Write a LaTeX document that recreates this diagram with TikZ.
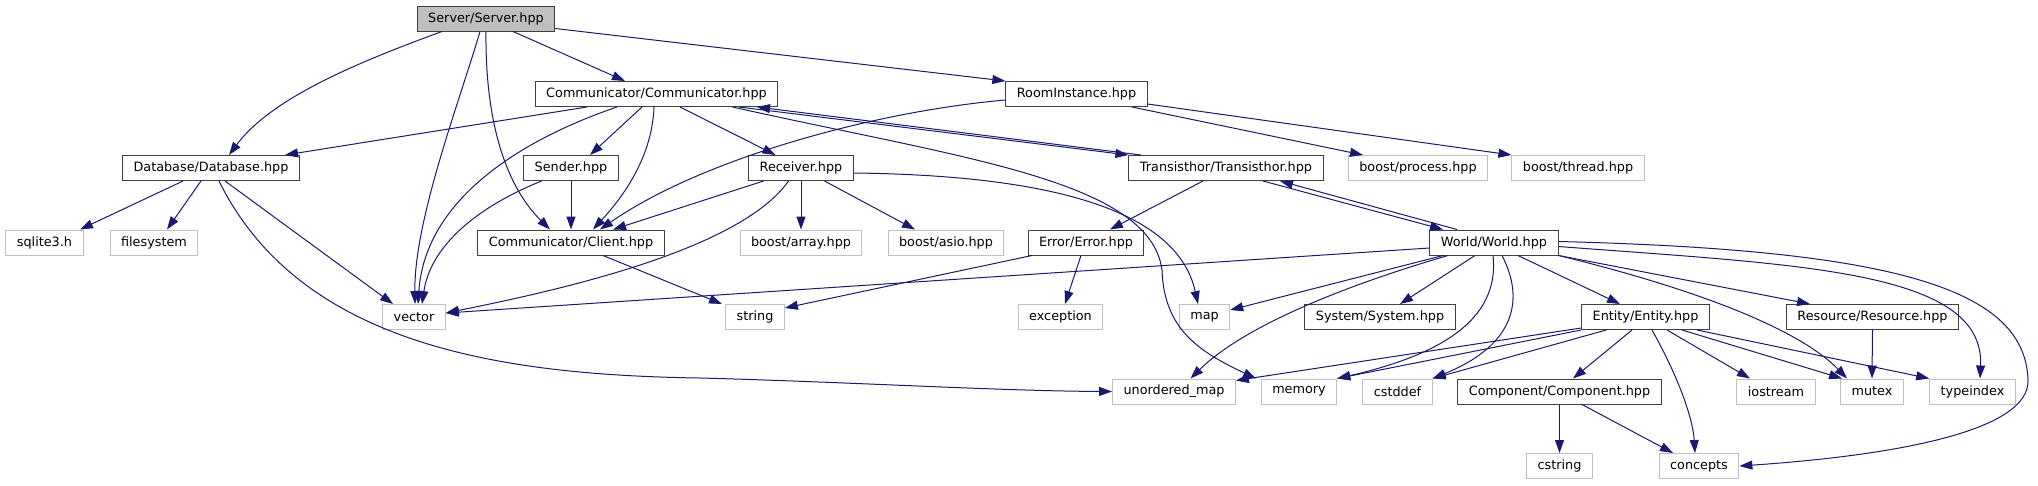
\documentclass[tikz,border=0pt]{standalone}
\usepackage{fontspec}
\newfontfamily\dvsans{DejaVu Sans}
\usetikzlibrary{arrows.meta}
\definecolor{edgeblue}{RGB}{25,25,112}
\definecolor{boxgray}{RGB}{191,191,191}
\definecolor{boxdark}{RGB}{64,64,64}
\tikzset{
  hdr/.style={draw=boxdark, line width=1pt, fill=white, minimum height=25pt,
    inner xsep=11pt, inner ysep=0pt, font=\dvsans\fontsize{12.8pt}{15pt}\selectfont},
  sysh/.style={hdr, draw=boxgray},
  cur/.style={hdr, fill=boxgray},
  incl/.style={edgeblue, line width=1pt, -{Triangle[length=13pt,width=9pt]}}
}

\begin{document}
\begin{tikzpicture}[x=1pt, y=-1pt]
  \useasboundingbox (0,0) rectangle (2038,485);
  % Headers
  \node[cur] (srv) at (486,18.5) {Server/Server.hpp};
  \node[hdr] (com) at (656.5,94) {Communicator/Communicator.hpp};
  \node[hdr] (room) at (1076.5,94) {RoomInstance.hpp};
  \node[hdr] (db) at (211,168) {Database/Database.hpp};
  \node[hdr] (snd) at (571,168) {Sender.hpp};
  \node[hdr] (rcv) at (801,168) {Receiver.hpp};
  \node[hdr] (tra) at (1226,168) {Transisthor/Transisthor.hpp};
  \node[hdr] (cli) at (571,242.5) {Communicator/Client.hpp};
  \node[hdr] (err) at (1086,242.5) {Error/Error.hpp};
  \node[hdr] (wld) at (1494,242.5) {World/World.hpp};
  \node[hdr] (sys) at (1380,317) {System/System.hpp};
  \node[hdr] (ent) at (1645.5,317) {Entity/Entity.hpp};
  \node[hdr] (res) at (1872.5,317) {Resource/Resource.hpp};
  \node[hdr] (comp) at (1559.5,391.5) {Component/Component.hpp};
  % System headers
  \node[sysh] (bproc) at (1418,168) {boost/process.hpp};
  \node[sysh] (bthr) at (1578,168) {boost/thread.hpp};
  \node[sysh] (sql) at (44.5,242.5) {sqlite3.h};
  \node[sysh] (fs) at (154,242.5) {filesystem};
  \node[sysh] (barr) at (801,242.5) {boost/array.hpp};
  \node[sysh] (basio) at (946,242.5) {boost/asio.hpp};
  \node[sysh] (vec) at (414,317) {vector};
  \node[sysh] (str) at (755,317) {string};
  \node[sysh] (exc) at (1060.5,317) {exception};
  \node[sysh] (map) at (1204.5,317) {map};
  \node[sysh] (umap) at (1174,391.5) {unordered\_map};
  \node[sysh] (mem) at (1299,391.5) {memory};
  \node[sysh] (cdef) at (1397.5,391.5) {cstddef};
  \node[sysh] (ios) at (1776,391.5) {iostream};
  \node[sysh] (mtx) at (1872,391.5) {mutex};
  \node[sysh] (tidx) at (1972.5,391.5) {typeindex};
  \node[sysh] (cstr) at (1559.5,466) {cstring};
  \node[sysh] (conc) at (1699,466) {concepts};

  % Server
  \draw[incl] ([xshift=-44pt]srv.south) .. controls (350,65) and (270,100) .. ([xshift=18pt]db.north);
  \draw[incl] ([xshift=-6pt]srv.south) .. controls (460,100) and (414,220) .. ([xshift=1pt]vec.north);
  \draw[incl] (srv.south) .. controls (485,120) and (505,185) .. ([xshift=-21pt]cli.north);
  \draw[incl] ([xshift=27pt]srv.south) -- ([xshift=-31.5pt]com.north);
  \draw[incl] ([yshift=-10pt]srv.east) -- (room.north west);
  % Communicator
  \draw[incl] ([xshift=-69.5pt]com.south) -- ([xshift=74pt]db.north);
  \draw[incl] ([xshift=-39.5pt]com.south) .. controls (520,140) and (425,200) .. ([xshift=4pt]vec.north);
  \draw[incl] ([xshift=-14.5pt]com.south) -- ([xshift=19pt]snd.north);
  \draw[incl] ([xshift=-2.5pt]com.south) .. controls (652,160) and (620,200) .. ([xshift=22pt]cli.north);
  \draw[incl] ([xshift=23.5pt]com.south) -- ([xshift=-25.5pt]rcv.north);
  \draw[incl] ([xshift=76pt]com.south) .. controls (960,158) and (1150,180) .. (1162,270)
    .. controls (1164,330) and (1200,352) .. ([xshift=-43pt]mem.north);
  \draw[incl] ([xshift=82.5pt]com.south) -- (tra.north west);
  \draw[incl] ([xshift=-85pt]tra.north) -- ([xshift=100.5pt]com.south);
  % RoomInstance
  \draw[incl] ([yshift=-6pt]room.west) .. controls (870,112) and (700,160) .. ([xshift=29pt]cli.north);
  \draw[incl] ([xshift=55.5pt]room.south) -- ([xshift=-55pt]bproc.north);
  \draw[incl] ([yshift=-10pt]room.east) -- (bthr.north west);
  % Database
  \draw[incl] ([xshift=-28pt]db.south) -- ([xshift=35.5pt]sql.north);
  \draw[incl] ([xshift=-10pt]db.south) -- ([xshift=13pt]fs.north);
  \draw[incl] ([xshift=14pt]db.south) -- ([xshift=-21pt]vec.north);
  \draw[incl] ([xshift=8pt]db.south) .. controls (300,345) and (500,375) .. (700,378)
    .. controls (850,382) and (1000,391) .. (umap.west);
  % Sender
  \draw[incl] (snd.south) -- (cli.north);
  \draw[incl] ([xshift=-29.5pt]snd.south) .. controls (470,210) and (430,250) .. ([xshift=8pt]vec.north);
  % Receiver
  \draw[incl] ([xshift=-37.5pt]rcv.south) -- ([xshift=42pt]cli.north);
  \draw[incl] ([xshift=-12.5pt]rcv.south) .. controls (740,250) and (560,290) .. ([yshift=4pt]vec.east);
  \draw[incl] (rcv.south) -- (barr.north);
  \draw[incl] ([xshift=23.5pt]rcv.south) -- ([xshift=-31pt]basio.north);
  \draw[incl] ([yshift=-5pt]rcv.east) .. controls (1020,175) and (1175,200) .. ([xshift=-6.5pt]map.north);
  % Client
  \draw[incl] ([xshift=32pt]cli.south) -- ([xshift=-33pt]str.north);
  % Transisthor
  \draw[incl] ([xshift=-23pt]tra.south) -- ([xshift=24pt]err.north);
  \draw[incl] ([xshift=37pt]tra.south) -- ([xshift=-51pt]wld.north);
  \draw[incl] ([xshift=-37pt]wld.north) -- ([xshift=54pt]tra.south);
  % Error
  \draw[incl] ([xshift=-54pt]err.south) -- ([yshift=9pt]str.east);
  \draw[incl] ([xshift=-5pt]err.south) -- ([xshift=4.5pt]exc.north);
  % World
  \draw[incl] ([yshift=-5.5pt]wld.west) -- ([yshift=4pt]vec.east);
  \draw[incl] ([xshift=-51pt]wld.south) -- ([yshift=7pt]map.east);
  \draw[incl] ([xshift=-46pt]wld.south) .. controls (1330,290) and (1240,330) .. ([xshift=16.5pt]umap.north);
  \draw[incl] ([xshift=-19pt]wld.south) -- ([xshift=20pt]sys.north);
  \draw[incl] ([xshift=-1pt]wld.south) .. controls (1500,320) and (1440,355) .. (mem.north east);
  \draw[incl] ([xshift=8pt]wld.south) .. controls (1525,300) and (1515,345) .. (cdef.north east);
  \draw[incl] ([xshift=24pt]wld.south) -- ([xshift=-25.5pt]ent.north);
  \draw[incl] (wld.south east) .. controls (1700,290) and (1800,330) .. ([xshift=-25pt]mtx.north);
  \draw[incl] (wld.south east) -- ([xshift=-62.5pt]res.north);
  \draw[incl] ([yshift=-4pt]wld.east) .. controls (1800,265) and (1985,270) .. ([xshift=7.5pt]tidx.north);
  \draw[incl] ([yshift=1pt]wld.east) .. controls (1900,250) and (2025,290) .. (2028,380)
    .. controls (2030,430) and (1900,455) .. (conc.east);
  % Entity
  \draw[incl] ([yshift=2pt]ent.south west) -- ([yshift=-2pt]umap.north east);
  \draw[incl] (ent.south west) -- (mem.north east);
  \draw[incl] ([xshift=25pt]ent.south west) -- (cdef.north east);
  \draw[incl] ([xshift=-13.5pt]ent.south) -- ([xshift=13.5pt]comp.north);
  \draw[incl] ([xshift=6.5pt]ent.south) .. controls (1680,380) and (1693,420) .. ([xshift=-4pt]conc.north);
  \draw[incl] ([xshift=21.5pt]ent.south) -- ([xshift=-26pt]ios.north);
  \draw[incl] ([xshift=36.5pt]ent.south) -- ([xshift=2pt]mtx.north west);
  \draw[incl] ([xshift=51.5pt]ent.south) -- (tidx.north west);
  % Resource, Component
  \draw[incl] (res.south) -- (mtx.north);
  \draw[incl] (comp.south) -- (cstr.north);
  \draw[incl] ([xshift=22.5pt]comp.south) -- ([xshift=-26pt]conc.north);
\end{tikzpicture}
\end{document}
